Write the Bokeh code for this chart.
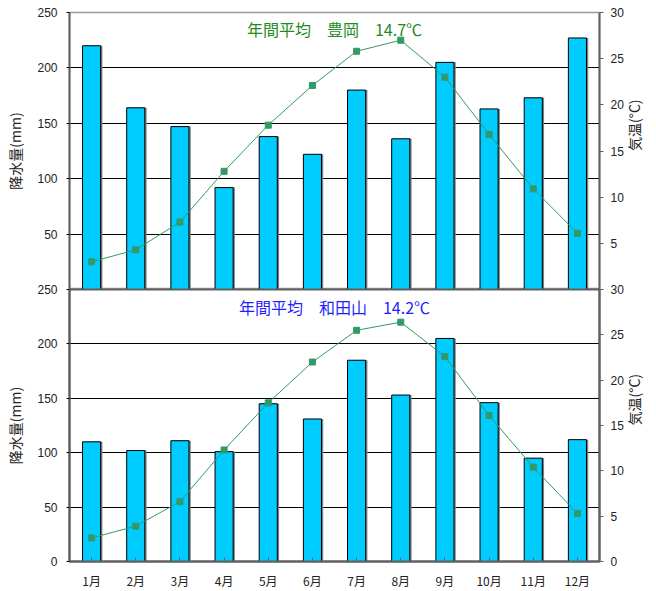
import math
from bokeh.plotting import figure
from bokeh.layouts import column
from bokeh.models import (ColumnDataSource, Range1d, FactorRange, LinearAxis, FixedTicker, Label)
from bokeh.transform import dodge
from bokeh.embed import file_html
from bokeh.resources import INLINE

months = ["1月", "2月", "3月", "4月", "5月", "6月", "7月", "8月", "9月", "10月", "11月", "12月"]
rain_toyooka = [220, 164, 147, 92, 138, 122, 180, 136, 205, 163, 173, 227]
temp_toyooka = [3.0, 4.3, 7.3, 12.8, 17.8, 22.1, 25.8, 27.0, 23.0, 16.8, 10.9, 6.1]
rain_wadayama = [110, 102, 111, 101, 145, 131, 185, 153, 205, 146, 95, 112]
temp_wadayama = [2.6, 3.9, 6.6, 12.3, 17.5, 22.0, 25.5, 26.4, 22.6, 16.1, 10.4, 5.3]
title_toyooka = "年間平均　豊岡　14.7℃"
title_wadayama = "年間平均　和田山　14.2℃"
rain_ticks = [0, 50, 100, 150, 200, 250]
temp_ticks = [0, 5, 10, 15, 20, 25, 30]

JP = "Noto Sans CJK JP"
NUM = "Liberation Sans"
GREEN = "#339966"
AXIS_C = "#606060"


def panel(rain, temp, title, title_color, top_panel):
    src = ColumnDataSource(dict(month=months, rain=rain, temp=temp))
    if top_panel:
        h, mb_top, mb_bot = 289, 12, 0
    else:
        h, mb_top, mb_bot = 310, 8, 25
    p = figure(width=656, height=h, output_backend="svg", toolbar_location=None,
               x_range=FactorRange(*months), y_range=Range1d(0, 250),
               min_border_left=69, min_border_right=55,
               min_border_top=mb_top, min_border_bottom=mb_bot)
    p.background_fill_color = "white"
    if top_panel:
        p.border_fill_color = "white"
        p.outline_line_color = "#999999"
        p.outline_line_width = 1.5
    else:
        p.border_fill_alpha = 0
        p.outline_line_color = AXIS_C
        p.outline_line_width = 2
        p.margin = (-8, 0, 0, 0)
    p.extra_y_ranges = {"temp": Range1d(0, 30)}

    lt = rain_ticks[1:] if top_panel else rain_ticks
    p.yaxis.ticker = FixedTicker(ticks=lt)
    p.yaxis.axis_line_color = AXIS_C
    p.yaxis.axis_line_width = 2
    p.yaxis.major_tick_out = 3
    p.yaxis.major_tick_in = 0
    p.yaxis.minor_tick_line_color = None
    p.yaxis.major_label_standoff = 9
    p.yaxis.major_label_text_font = NUM
    p.yaxis.major_label_text_font_size = "12px"
    p.yaxis.major_label_text_color = "#222222"
    p.yaxis.axis_label = "降水量(mm)"
    p.yaxis.axis_label_text_font = JP
    p.yaxis.axis_label_text_font_size = "14px"
    p.yaxis.axis_label_text_font_style = "normal"
    p.yaxis.axis_label_text_color = "#222222"
    p.yaxis.axis_label_standoff = 9

    rt = temp_ticks[1:] if top_panel else temp_ticks
    ra = LinearAxis(y_range_name="temp", ticker=FixedTicker(ticks=rt))
    ra.axis_line_color = AXIS_C
    ra.axis_line_width = 2
    ra.major_tick_out = 4
    ra.major_tick_in = 0
    ra.major_tick_line_color = AXIS_C
    ra.minor_tick_line_color = None
    ra.major_label_standoff = 7
    ra.major_label_text_font = NUM
    ra.major_label_text_font_size = "12px"
    ra.major_label_text_color = "#222222"
    ra.axis_label = "気温(°C)"
    ra.axis_label_orientation = math.pi / 2
    ra.axis_label_text_font = JP
    ra.axis_label_text_font_size = "14px"
    ra.axis_label_text_font_style = "normal"
    ra.axis_label_text_color = "#222222"
    ra.axis_label_standoff = 7
    p.add_layout(ra, "right")

    if top_panel:
        p.xaxis.visible = False
    else:
        p.xaxis.axis_line_color = AXIS_C
        p.xaxis.axis_line_width = 2
        p.xaxis.major_tick_out = 0
        p.xaxis.major_tick_in = 4
        p.xaxis.major_tick_line_color = AXIS_C
        p.xaxis.major_label_standoff = 10
        p.xaxis.major_label_text_font = JP
        p.xaxis.major_label_text_font_size = "12px"
        p.xaxis.major_label_text_color = "#222222"

    p.xgrid.grid_line_color = None
    p.ygrid.ticker = FixedTicker(ticks=[50, 100, 150, 200])
    p.ygrid.grid_line_color = "black"
    p.ygrid.grid_line_width = 1

    bar_w = 0.41
    p.vbar(x=dodge("month", 0.04, range=p.x_range), top="rain", bottom=0, width=bar_w,
           source=src, fill_color="#7f7f7f", line_color=None)
    p.vbar(x="month", top="rain", bottom=0, width=bar_w, source=src,
           fill_color="#00CCFF", line_color="black", line_width=1)

    p.line(x="month", y="temp", source=src, line_color=GREEN, line_width=1, y_range_name="temp")
    p.scatter(x="month", y="temp", source=src, marker="square", size=6,
              fill_color=GREEN, line_color=GREEN, y_range_name="temp")

    p.add_layout(Label(x=6.0, y=235.5 if top_panel else 234, text=title,
                       text_align="center", text_baseline="middle", text_color=title_color,
                       text_font=JP, text_font_size="16px"))
    return p


p1 = panel(rain_toyooka, temp_toyooka, title_toyooka, "#1f8c1f", True)
p2 = panel(rain_wadayama, temp_wadayama, title_wadayama, "#1f1fff", False)
layout = column(p1, p2, spacing=0)

open("out.html", "w").write(file_html(layout, INLINE))
